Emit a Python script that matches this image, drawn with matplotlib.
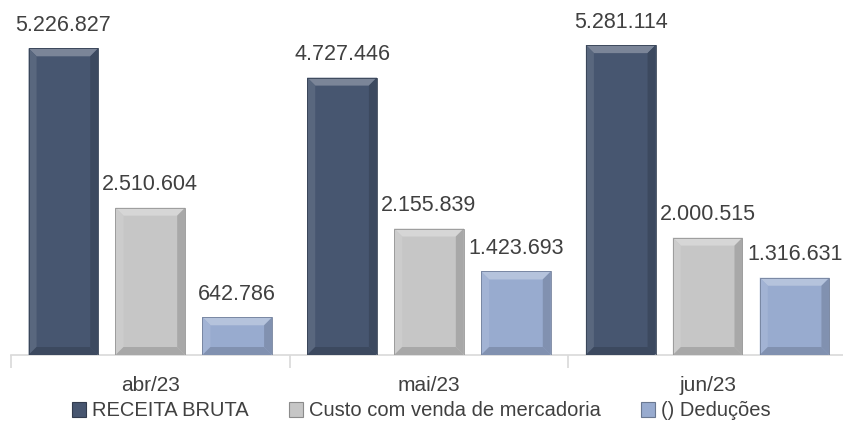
import numpy as np
import matplotlib
matplotlib.use("Agg")
import matplotlib.pyplot as plt
from matplotlib.patches import Polygon, Rectangle
from matplotlib.colors import to_rgb

meses = ['abr/23', 'mai/23', 'jun/23']
series = ['RECEITA BRUTA', 'Custo com venda de mercadoria', '() Deduções']
receita_bruta = [5226827, 4727446, 5281114]
custo_mercadoria = [2510604, 2155839, 2000515]
deducoes = [642786, 1423693, 1316631]

cores = ['#475670', '#c6c6c6', '#98abcf']
cor_texto = '#404040'

plt.rcParams['font.family'] = ['Liberation Sans', 'DejaVu Sans']


def mix(c, alvo, t):
    c = np.array(to_rgb(c))
    alvo = np.array(to_rgb(alvo))
    return tuple(c + (alvo - c) * t)


def add_bevel(ax, bars, cor, bx, by):
    # chanfro estilo Excel: topo claro, laterais e base mais escuras
    for b in bars:
        x0, y0 = b.get_x(), 0
        x1, y1 = x0 + b.get_width(), b.get_height()
        dy = min(by, (y1 - y0) / 2)
        topo = [(x0, y1), (x1, y1), (x1 - bx, y1 - dy), (x0 + bx, y1 - dy)]
        esq = [(x0, y0), (x0, y1), (x0 + bx, y1 - dy), (x0 + bx, y0 + dy)]
        dir_ = [(x1, y0), (x1, y1), (x1 - bx, y1 - dy), (x1 - bx, y0 + dy)]
        base = [(x0, y0), (x1, y0), (x1 - bx, y0 + dy), (x0 + bx, y0 + dy)]
        ax.add_patch(Polygon(topo, closed=True, fc=mix(cor, 'white', 0.28), ec='none', zorder=3))
        ax.add_patch(Polygon(esq, closed=True, fc=mix(cor, 'white', 0.10), ec='none', zorder=3))
        ax.add_patch(Polygon(dir_, closed=True, fc=mix(cor, 'black', 0.15), ec='none', zorder=3))
        ax.add_patch(Polygon(base, closed=True, fc=mix(cor, 'black', 0.15), ec='none', zorder=3))
        ax.add_patch(Rectangle((x0, y0), x1 - x0, y1 - y0, fc='none',
                               ec=mix(cor, 'black', 0.25), lw=0.6, zorder=4))


def fmt(v):
    return f'{v:,}'.replace(',', '.')


fig = plt.figure(figsize=(8.43, 4.32), dpi=100)
ax = fig.add_axes([11 / 843, 1 - 355 / 432, 836 / 843, 355 / 432])

x = np.arange(len(meses))
largura = 0.25
desloc = 0.312
ymax = 6.05e6

todas = [receita_bruta, custo_mercadoria, deducoes]
ax.set_xlim(-0.5, 2.5)
ax.set_ylim(0, ymax)

# tamanho do chanfro em unidades de dados (~8 px)
ax_w = 836
ax_h = 355
bx = 8 * 3.0 / ax_w
by = 8 * ymax / ax_h

for i, (vals, cor, nome) in enumerate(zip(todas, cores, series)):
    bars = ax.bar(x + (i - 1) * desloc, vals, largura, color=cor, label=nome, zorder=2)
    add_bevel(ax, bars, cor, bx, by)
    for b, v in zip(bars, vals):
        ax.annotate(fmt(v), xy=(b.get_x() + b.get_width() / 2, v),
                    xytext=(0, 9), textcoords='offset points',
                    ha='center', va='bottom', fontsize=15.5, color=cor_texto)

for s in ['top', 'right', 'left']:
    ax.spines[s].set_visible(False)
ax.spines['bottom'].set_color('#d9d9d9')
ax.spines['bottom'].set_linewidth(1.2)
ax.set_yticks([])
ax.set_xticks([-0.5, 0.5, 1.5, 2.5])
ax.set_xticklabels([])
ax.tick_params(axis='x', length=9, width=1.2, color='#d9d9d9')
ax.set_xticks(x, minor=True)
ax.set_xticklabels(meses, minor=True, fontsize=15, color=cor_texto)
ax.tick_params(axis='x', which='minor', length=0, pad=15)

handles = [Rectangle((0, 0), 1, 1, fc=c, ec=mix(c, 'black', 0.3), lw=0.8) for c in cores]
fig.legend(handles, series, loc='center', bbox_to_anchor=(0.5, 1 - 411 / 432), ncol=3,
           frameon=False, fontsize=14.5, handlelength=0.7, handleheight=0.7,
           handletextpad=0.3, columnspacing=2.0, labelcolor=cor_texto)

fig.savefig('out.png', dpi=100)
